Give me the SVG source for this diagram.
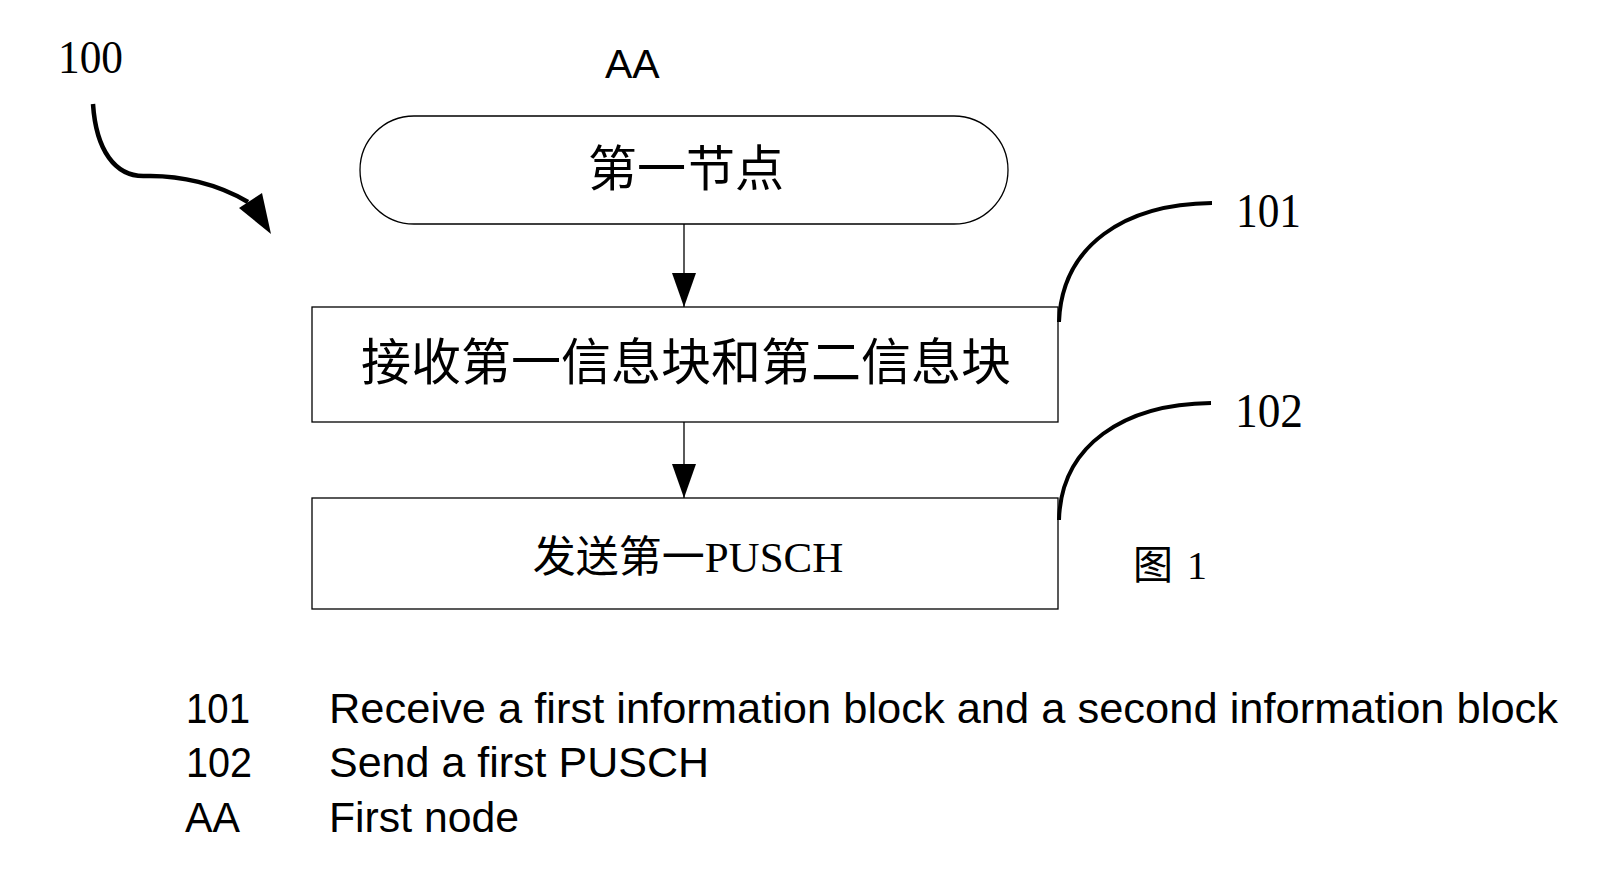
<svg xmlns="http://www.w3.org/2000/svg" width="1613" height="879" viewBox="0 0 1613 879">
<style>
.bg{fill:#fff}
.shape{fill:#fff;stroke:#000;stroke-width:1.3}
.conn{stroke:#000;stroke-width:1.3;fill:none}
.lead{stroke:#000;stroke-width:4;fill:none;stroke-linecap:butt}
.cjk{font-family:"Liberation Serif","Noto Sans CJK SC",serif;fill:#000}
.num{font-family:"Liberation Serif",serif;fill:#000}
.sans{font-family:"Liberation Sans",Arial,sans-serif;fill:#000;font-size:42px}
</style>
<defs>
<marker id="arr" markerWidth="34" markerHeight="24" refX="34" refY="12" orient="auto" markerUnits="userSpaceOnUse" viewBox="0 0 34 24">
<path d="M0,0 L34,12 L0,24 Z" fill="#000"/>
</marker>
</defs>
<rect class="bg" x="0" y="0" width="1613" height="879"/>

<g id="ref100">
<text class="num" x="58" y="73" font-size="46" textLength="65" lengthAdjust="spacingAndGlyphs">100</text>
<path d="M93,104 C96,150 115,177 145,176 C180,175 218,184 248,202" stroke="#000" stroke-width="4.5" fill="none"/>
<polygon points="271,234 239,208 262,193" fill="#000"/>
</g>

<g id="labelAA">
<text class="sans" x="605" y="78" style="font-size:41px">AA</text>
</g>

<g id="node-AA">
<rect class="shape" x="360" y="116" width="648" height="108" rx="54" ry="54"/>
<text class="cjk" x="686" y="186" font-size="49" text-anchor="middle">第一节点</text>
</g>

<g id="node-101">
<rect class="shape" x="312" y="307" width="746" height="115"/>
<text class="cjk" x="686" y="380" font-size="50" text-anchor="middle">接收第一信息块和第二信息块</text>
</g>

<g id="node-102">
<rect class="shape" x="312" y="498" width="746" height="111"/>
<text class="cjk" x="688" y="572" font-size="43" text-anchor="middle">发送第一PUSCH</text>
</g>

<g id="connectors">
<line class="conn" x1="684" y1="224" x2="684" y2="307" marker-end="url(#arr)"/>
<line class="conn" x1="684" y1="422" x2="684" y2="498" marker-end="url(#arr)"/>
</g>

<g id="leaders">
<path class="lead" d="M1212,203 C1125,204 1062,245 1059,322"/>
<path class="lead" d="M1211,403 C1124,404 1061,445 1059,520"/>
<text class="num" x="1236" y="227" font-size="48" textLength="65" lengthAdjust="spacingAndGlyphs">101</text>
<text class="num" x="1235" y="427" font-size="48" textLength="68" lengthAdjust="spacingAndGlyphs">102</text>
</g>

<g id="figlabel">
<text class="cjk" x="1133" y="579" font-size="40">图<tspan x="1187">1</tspan></text>
</g>

<g id="legend">
<text class="sans" x="186" y="723" textLength="64" lengthAdjust="spacingAndGlyphs">101</text>
<text class="sans" x="329" y="723" textLength="1229" lengthAdjust="spacingAndGlyphs">Receive a first information block and a second information block</text>
<text class="sans" x="186" y="777" textLength="66" lengthAdjust="spacingAndGlyphs">102</text>
<text class="sans" x="329" y="777" textLength="380" lengthAdjust="spacingAndGlyphs">Send a first PUSCH</text>
<text class="sans" x="185" y="832" textLength="55" lengthAdjust="spacingAndGlyphs">AA</text>
<text class="sans" x="329" y="832" textLength="190" lengthAdjust="spacingAndGlyphs">First node</text>
</g>
</svg>
